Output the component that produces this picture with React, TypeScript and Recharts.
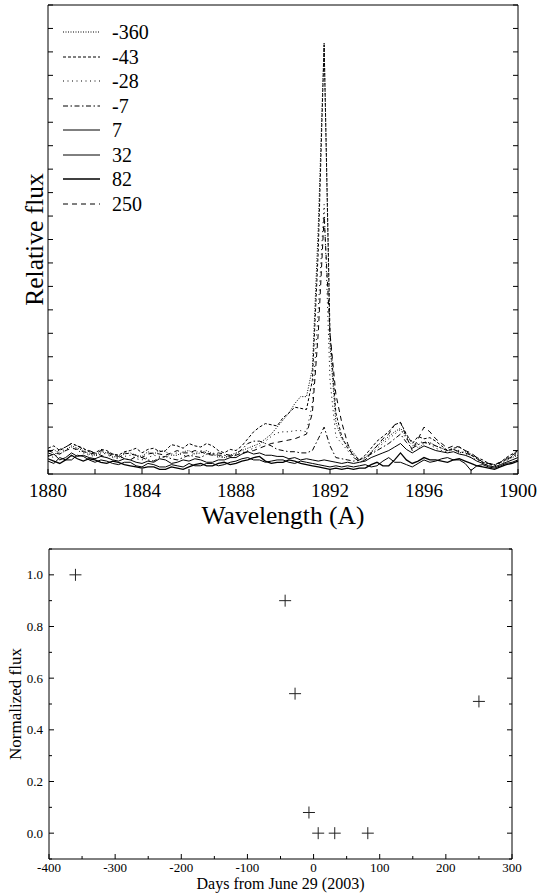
import React from "react";
import { LineChart, Line, XAxis, YAxis, Legend, ScatterChart, Scatter } from "recharts";

const FONT = "'Liberation Serif', 'DejaVu Serif', 'Times New Roman', serif";

// spectra: wavelength grid (A), 0.25 A steps
const wavelengths = [
  1880, 1880.25, 1880.5, 1880.75, 1881, 1881.25, 1881.5, 1881.75, 1882, 1882.25, 1882.5, 1882.75,
  1883, 1883.25, 1883.5, 1883.75, 1884, 1884.25, 1884.5, 1884.75, 1885, 1885.25, 1885.5, 1885.75,
  1886, 1886.25, 1886.5, 1886.75, 1887, 1887.25, 1887.5, 1887.75, 1888, 1888.25, 1888.5, 1888.75,
  1889, 1889.25, 1889.5, 1889.75, 1890, 1890.25, 1890.5, 1890.75, 1891, 1891.25, 1891.5, 1891.75,
  1892, 1892.25, 1892.5, 1892.75, 1893, 1893.25, 1893.5, 1893.75, 1894, 1894.25, 1894.5, 1894.75,
  1895, 1895.25, 1895.5, 1895.75, 1896, 1896.25, 1896.5, 1896.75, 1897, 1897.25, 1897.5, 1897.75,
  1898, 1898.25, 1898.5, 1898.75, 1899, 1899.25, 1899.5, 1899.75, 1900,
];
// relative flux per epoch (days from June 29, 2003)
const fluxM360 = [
  0.95, 1.05, 0.85, 1.0, 1.2, 1.1, 1.0, 0.85, 0.8, 0.95, 0.9, 0.75,
  0.7, 0.85, 0.9, 0.8, 0.75, 0.95, 0.85, 1.0, 0.95, 0.8, 0.8, 0.95,
  1.0, 0.85, 0.9, 1.0, 0.85, 0.75, 0.7, 0.8, 0.9, 1.0, 1.1, 1.2,
  1.3, 1.5, 1.7, 2.0, 2.3, 2.6, 3.0, 3.3, 3.3, 4.5, 10.5, 18.4,
  5.5, 2.2, 1.5, 1.2, 0.9, 0.6, 0.7, 0.95, 1.2, 1.4, 1.6, 1.8,
  1.95, 1.6, 1.4, 1.1, 1.3, 1.35, 1.2, 1.1, 1.0, 1.05, 0.9, 0.95,
  0.85, 0.7, 0.5, 0.45, 0.4, 0.5, 0.6, 0.7, 0.8,
];
const fluxM43 = [
  1.1, 1.2, 1.0, 1.15, 1.3, 1.2, 1.1, 0.95, 0.9, 1.05, 1.0, 0.85,
  0.8, 0.95, 1.0, 1.1, 0.9, 1.05, 1.1, 0.95, 1.0, 1.25, 1.2, 1.1,
  1.3, 1.2, 1.15, 1.3, 1.2, 1.0, 0.9, 1.05, 1.0, 1.2, 1.5, 1.8,
  2.0, 2.15, 2.1, 2.05, 2.4, 2.6, 2.85, 2.8, 2.75, 4.0, 9.5, 18.3,
  6.0, 2.6, 1.6, 1.1, 0.8, 0.6, 0.8, 1.1, 1.4, 1.6, 1.8, 2.1,
  2.2, 1.7, 1.3, 1.6, 1.5, 1.55, 1.4, 1.2, 1.0, 1.1, 1.15, 1.0,
  0.8, 0.7, 0.6, 0.45, 0.35, 0.5, 0.7, 0.85, 1.0,
];
const fluxM28 = [
  0.8, 0.7, 0.95, 1.05, 1.15, 1.0, 0.9, 0.8, 0.75, 0.9, 0.85, 0.7,
  0.65, 0.75, 0.8, 0.65, 0.6, 0.7, 0.8, 0.75, 0.7, 0.85, 0.9, 0.8,
  0.75, 0.9, 1.0, 0.9, 0.85, 0.7, 0.75, 0.7, 0.8, 0.9, 1.0, 1.1,
  1.2, 1.4, 1.6, 1.75, 1.8, 1.8, 1.85, 1.85, 1.8, 3.0, 7.0, 11.5,
  4.0, 1.6, 1.3, 1.0, 0.7, 0.5, 0.6, 0.85, 1.1, 1.3, 1.5, 1.7,
  1.9, 1.5, 1.2, 1.3, 1.4, 1.25, 1.1, 1.0, 0.95, 1.05, 1.0, 0.85,
  0.7, 0.6, 0.45, 0.4, 0.35, 0.45, 0.55, 0.75, 0.9,
];
const fluxM7 = [
  0.9, 0.8, 1.05, 1.15, 1.3, 1.2, 1.05, 1.0, 0.9, 0.8, 0.7, 0.85,
  0.8, 0.65, 0.6, 0.75, 0.7, 0.6, 0.55, 0.7, 0.75, 0.65, 0.6, 0.7,
  0.8, 0.75, 0.7, 0.85, 0.9, 0.8, 0.8, 0.75, 0.85, 1.05, 1.3, 1.4,
  1.4, 1.3, 1.2, 1.05, 1.0, 0.95, 0.95, 0.9, 0.9, 1.0, 1.5, 2.0,
  1.2, 0.7, 0.65, 0.6, 0.55, 0.6, 0.7, 0.85, 1.0, 1.15, 1.3, 1.5,
  1.7, 1.35, 1.1, 1.25, 1.35, 1.3, 1.2, 1.1, 1.0, 1.05, 0.95, 0.9,
  0.8, 0.65, 0.5, 0.45, 0.4, 0.5, 0.6, 0.75, 0.85,
];
const fluxP7 = [
  0.75, 0.85, 0.6, 0.7, 0.9, 0.75, 0.8, 0.7, 0.65, 0.75, 0.7, 0.6,
  0.55, 0.65, 0.6, 0.5, 0.45, 0.55, 0.5, 0.65, 0.6, 0.45, 0.5, 0.6,
  0.55, 0.65, 0.6, 0.5, 0.5, 0.6, 0.6, 0.7, 0.7, 0.85, 0.95, 0.85,
  0.9, 0.8, 0.8, 0.75, 0.75, 0.65, 0.7, 0.6, 0.65, 0.6, 0.55, 0.6,
  0.55, 0.5, 0.45, 0.5, 0.45, 0.5, 0.55, 0.7, 0.8, 0.9, 1.0, 1.15,
  1.3, 1.05, 0.9, 1.05, 1.2, 1.1, 1.0, 0.95, 0.9, 0.95, 0.85, 0.8,
  0.7, 0.55, 0.45, 0.35, 0.3, 0.4, 0.5, 0.6, 0.7,
];
const fluxP32 = [
  0.55, 0.45, 0.7, 0.6, 0.6, 0.8, 0.75, 0.6, 0.5, 0.6, 0.55, 0.45,
  0.4, 0.5, 0.5, 0.35, 0.3, 0.45, 0.4, 0.3, 0.3, 0.4, 0.35, 0.3,
  0.45, 0.35, 0.35, 0.45, 0.45, 0.35, 0.4, 0.5, 0.55, 0.65, 0.7, 0.6,
  0.6, 0.5, 0.55, 0.6, 0.6, 0.5, 0.45, 0.55, 0.5, 0.45, 0.4, 0.35,
  0.3, 0.35, 0.3, 0.35, 0.3, 0.35, 0.4, 0.3, 0.35, 0.55, 0.7, 0.5,
  0.5, 0.4, 0.3, 0.45, 0.6, 0.5, 0.55, 0.65, 0.7, 0.6, 0.6, 0.45,
  0.15, 0.35, 0.4, 0.3, 0.25, 0.35, 0.45, 0.5, 0.6,
];
const fluxP82 = [
  0.65, 0.55, 0.45, 0.6, 0.8, 0.65, 0.55, 0.65, 0.6, 0.5, 0.45, 0.55,
  0.5, 0.4, 0.35, 0.3, 0.25, 0.3, 0.3, 0.2, 0.2, 0.3, 0.25, 0.2,
  0.3, 0.4, 0.45, 0.35, 0.35, 0.45, 0.5, 0.4, 0.45, 0.55, 0.6, 0.7,
  0.75, 0.55, 0.45, 0.5, 0.5, 0.6, 0.55, 0.45, 0.4, 0.35, 0.3, 0.25,
  0.2, 0.25, 0.2, 0.25, 0.2, 0.25, 0.25, 0.4, 0.5, 0.35, 0.35, 0.6,
  0.9, 0.6, 0.45, 0.55, 0.7, 0.6, 0.6, 0.55, 0.5, 0.6, 0.65, 0.55,
  0.45, 0.35, 0.3, 0.25, 0.2, 0.3, 0.4, 0.45, 0.55,
];
const fluxP250 = [
  1.0, 0.9, 0.85, 1.0, 1.1, 1.05, 0.95, 0.9, 0.85, 1.0, 0.95, 0.8,
  0.75, 0.9, 0.85, 0.8, 0.7, 0.85, 0.9, 0.85, 0.8, 0.9, 1.0, 0.9,
  0.9, 1.0, 0.95, 0.85, 0.8, 0.9, 0.85, 0.8, 0.8, 0.9, 0.95, 1.0,
  1.1, 1.2, 1.3, 1.35, 1.4, 1.45, 1.5, 1.6, 1.7, 2.6, 6.0, 11.0,
  6.0, 3.4, 2.2, 1.3, 0.7, 0.55, 0.6, 0.9, 1.2, 1.5, 1.7, 2.1,
  2.2, 1.6, 1.0, 1.5, 2.0, 1.8, 1.5, 1.3, 1.1, 1.2, 1.15, 1.0,
  0.9, 0.7, 0.5, 0.45, 0.4, 0.5, 0.65, 0.8, 0.95,
];

const epochs = ["-360", "-43", "-28", "-7", "7", "32", "82", "250"];
const spectra = [fluxM360, fluxM43, fluxM28, fluxM7, fluxP7, fluxP32, fluxP82, fluxP250];

// light curve
const days = [-360, -43, -28, -7, 7, 32, 82, 250];
const normFlux = [1.0, 0.9, 0.54, 0.08, 0.0, 0.0, 0.0, 0.51];

const wlTicks = [1880, 1882, 1884, 1886, 1888, 1890, 1892, 1894, 1896, 1898, 1900];
const relTicks = [0, 1, 2, 3, 4, 5, 6, 7, 8, 9, 10, 11, 12, 13, 14, 15, 16, 17, 18, 19, 20];
const dayTicks = [-400, -350, -300, -250, -200, -150, -100, -50, 0, 50, 100, 150, 200, 250, 300];
const normTicks = [-0.1, 0, 0.1, 0.2, 0.3, 0.4, 0.5, 0.6, 0.7, 0.8, 0.9, 1.0, 1.1];

// line styles per epoch
const dashStyle: Record<string, string | undefined> = {
  "-360": "1 1.5",
  "-43": "3 2",
  "-28": "1 3.5",
  "-7": "5 2.5 1.5 2.5",
  "7": undefined,
  "32": undefined,
  "82": undefined,
  "250": "5 4",
};
const widthStyle: Record<string, number> = { "-360": 1, "-43": 1, "-28": 1, "-7": 1, "7": 1, "32": 1, "82": 1.3, "250": 1 };

const spectraRows = wavelengths.map((wl, i) => {
  const row: Record<string, number> = { wl };
  epochs.forEach((e, k) => (row[e] = spectra[k][i]));
  return row;
});
const lightRows = days.map((d, i) => ({ day: d, flux: normFlux[i] }));

type Side = "bottom" | "top" | "left" | "right";

// ticks drawn inward, optional label outside
const inwardTick =
  (side: Side, len: number, opts: { major?: (v: number) => boolean; fmt?: (v: number) => string; size?: number; gap?: number } = {}) =>
  (p: any) => {
    const { x, y, payload } = p;
    const v = payload.value;
    const isMajor = opts.major ? opts.major(v) : true;
    const l = isMajor ? len : Math.round(len * 0.6);
    let line;
    if (side === "bottom") line = <line x1={x} y1={y} x2={x} y2={y - l} stroke="#000" />;
    else if (side === "top") line = <line x1={x} y1={y} x2={x} y2={y + l} stroke="#000" />;
    else if (side === "left") line = <line x1={x} y1={y} x2={x + l} y2={y} stroke="#000" />;
    else line = <line x1={x} y1={y} x2={x - l} y2={y} stroke="#000" />;
    let label = null;
    if (opts.fmt && isMajor) {
      const txt = opts.fmt(v);
      if (side === "bottom" && txt)
        label = (
          <text x={x} y={y + (opts.gap ?? 20)} textAnchor="middle" fontFamily={FONT} fontSize={opts.size} fill="#000">
            {txt}
          </text>
        );
      if (side === "left" && txt)
        label = (
          <text x={x - (opts.gap ?? 6)} y={y} dy="0.35em" textAnchor="end" fontFamily={FONT} fontSize={opts.size} fill="#000">
            {txt}
          </text>
        );
    }
    return (
      <g>
        {line}
        {label}
      </g>
    );
  };

const vLabel = (text: string, cx: number, size: number) => (p: any) => {
  const vb = p.viewBox || {};
  const cy = (vb.y ?? 0) + (vb.height ?? 0) / 2;
  return (
    <text x={cx} y={cy} transform={`rotate(-90 ${cx} ${cy})`} textAnchor="middle" dominantBaseline="central" fontFamily={FONT} fontSize={size} fill="#000">
      {text}
    </text>
  );
};

const SpectraLegend = () => (
  <div style={{ fontFamily: FONT, fontSize: 20, color: "#000" }}>
    {epochs.map((e) => (
      <div key={e} style={{ display: "flex", alignItems: "center", height: 24.5 }}>
        <svg width={37} height={10}>
          <line x1={0} y1={5} x2={37} y2={5} stroke="#000" strokeWidth={widthStyle[e]} strokeDasharray={dashStyle[e]} />
        </svg>
        <span style={{ marginLeft: 12, lineHeight: "24.5px" }}>{e}</span>
      </div>
    ))}
  </div>
);

const Plus = (p: any) => (
  <path d={`M${p.cx - 6},${p.cy}h12M${p.cx},${p.cy - 6}v12`} stroke="#222" strokeWidth={1} fill="none" />
);

export default function App() {
  return (
    <div style={{ position: "absolute", left: 0, top: 0, width: 537, height: 894, background: "#fff" }}>
      <LineChart width={537} height={530} data={spectraRows} margin={{ top: 4, right: 18, bottom: 0, left: 0 }}>
        <XAxis
          xAxisId="x"
          dataKey="wl"
          type="number"
          domain={[1880, 1900]}
          ticks={wlTicks}
          interval={0}
          height={56}
          tickSize={0}
          tickMargin={0}
          tickLine={false}
          axisLine={{ stroke: "#000" }}
          tick={inwardTick("bottom", 5, { major: () => true, fmt: (v) => (v % 4 === 0 ? String(v) : ""), size: 19, gap: 23 })}
          label={{ value: "Wavelength (A)", position: "insideBottom", offset: 6, style: { fontFamily: FONT, fontSize: 25.5, fill: "#000" } }}
        />
        <XAxis
          xAxisId="xt"
          orientation="top"
          type="number"
          domain={[1880, 1900]}
          allowDataOverflow
          ticks={wlTicks}
          interval={0}
          height={1}
          tickSize={0}
          tickMargin={0}
          tickLine={false}
          axisLine={{ stroke: "#000" }}
          tick={inwardTick("top", 5)}
        />
        <YAxis
          yAxisId="y"
          type="number"
          domain={[0, 20]}
          allowDataOverflow
          ticks={relTicks}
          interval={0}
          width={48}
          tickSize={0}
          tickMargin={0}
          tickLine={false}
          axisLine={{ stroke: "#000" }}
          tick={inwardTick("left", 5)}
          label={vLabel("Relative flux", 34, 25.5)}
        />
        <YAxis
          yAxisId="yr"
          orientation="right"
          type="number"
          domain={[0, 20]}
          allowDataOverflow
          ticks={relTicks}
          interval={0}
          width={1}
          tickSize={0}
          tickMargin={0}
          tickLine={false}
          axisLine={{ stroke: "#000" }}
          tick={inwardTick("right", 5)}
        />
        <Legend
          layout="vertical"
          align="center"
          verticalAlign="middle"
          content={SpectraLegend}
          wrapperStyle={{ left: 63, top: 20, width: "auto" }}
        />
        {epochs.map((e) => (
          <Line
            key={e}
            xAxisId="x"
            yAxisId="y"
            type="linear"
            dataKey={e}
            name={e}
            stroke="#000"
            strokeWidth={widthStyle[e]}
            strokeDasharray={dashStyle[e]}
            dot={false}
            isAnimationActive={false}
          />
        ))}
      </LineChart>

      <ScatterChart width={537} height={364} margin={{ top: 18, right: 24, bottom: 0, left: 0 }}>
        <XAxis
          xAxisId="x"
          dataKey="day"
          type="number"
          domain={[-400, 300]}
          ticks={dayTicks}
          interval={0}
          height={35}
          tickSize={0}
          tickMargin={0}
          tickLine={false}
          axisLine={{ stroke: "#000" }}
          tick={inwardTick("bottom", 5, { major: (v) => v % 100 === 0, fmt: (v) => String(v), size: 13, gap: 13 })}
          label={{ value: "Days from June 29 (2003)", position: "insideBottom", offset: 5, style: { fontFamily: FONT, fontSize: 16, fill: "#000" } }}
        />
        <XAxis
          xAxisId="xt"
          orientation="top"
          type="number"
          domain={[-400, 300]}
          allowDataOverflow
          ticks={dayTicks}
          interval={0}
          height={1}
          tickSize={0}
          tickMargin={0}
          tickLine={false}
          axisLine={{ stroke: "#000" }}
          tick={inwardTick("top", 5, { major: (v) => v % 100 === 0 })}
        />
        <YAxis
          yAxisId="y"
          dataKey="flux"
          type="number"
          domain={[-0.1, 1.1]}
          allowDataOverflow
          ticks={normTicks}
          interval={0}
          width={49}
          tickSize={0}
          tickMargin={0}
          tickLine={false}
          axisLine={{ stroke: "#000" }}
          tick={inwardTick("left", 5, {
            major: (v) => Math.round(v * 10) % 2 === 0 && v > -0.05 && v < 1.05,
            fmt: (v) => v.toFixed(1),
            size: 13,
            gap: 6,
          })}
          label={vLabel("Normalized flux", 15, 17)}
        />
        <YAxis
          yAxisId="yr"
          orientation="right"
          type="number"
          domain={[-0.1, 1.1]}
          allowDataOverflow
          ticks={normTicks}
          interval={0}
          width={1}
          tickSize={0}
          tickMargin={0}
          tickLine={false}
          axisLine={{ stroke: "#000" }}
          tick={inwardTick("right", 5, { major: (v) => Math.round(v * 10) % 2 === 0 })}
        />
        <Scatter xAxisId="x" yAxisId="y" data={lightRows} dataKey="flux" shape={Plus} isAnimationActive={false} />
      </ScatterChart>
    </div>
  );
}
